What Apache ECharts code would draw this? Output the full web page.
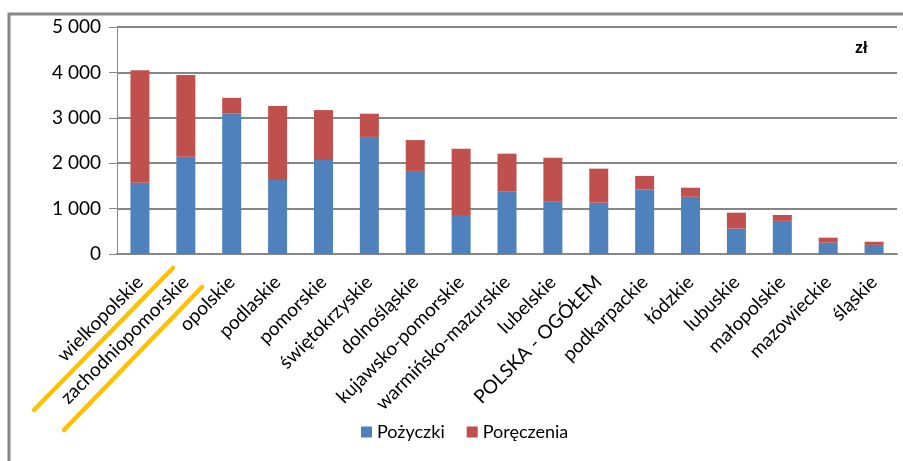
<!DOCTYPE html>
<html>
<head>
<meta charset="utf-8">
<script src="https://cdn.jsdelivr.net/npm/echarts@6/dist/echarts.min.js"></script>
<style>
  html, body { margin: 0; padding: 0; background: #fff; }
  #main { width: 903px; height: 461px; }
</style>
</head>
<body>
<div id="main"></div>
<script>
var regions = ['wielkopolskie', 'zachodniopomorskie', 'opolskie', 'podlaskie', 'pomorskie',
    'świętokrzyskie', 'dolnośląskie', 'kujawsko-pomorskie', 'warmińsko-mazurskie', 'lubelskie',
    'POLSKA - OGÓŁEM', 'podkarpackie', 'łódzkie', 'lubuskie', 'małopolskie', 'mazowieckie', 'śląskie'];

var pozyczki = [1570, 2140, 3090, 1630, 2070, 2580, 1830, 860, 1380, 1160, 1130, 1420, 1260, 560, 730, 250, 200];
var poreczenia = [2480, 1800, 350, 1630, 1100, 510, 680, 1460, 830, 960, 750, 300, 200, 350, 130, 110, 70];

var yTicks = [0, 1000, 2000, 3000, 4000, 5000];

var myChart = echarts.init(document.getElementById('main'));
var font = 'Lato, "Open Sans", sans-serif';

var option = {
    animation: false,
    textStyle: {fontFamily: font},
    grid: {left: 117, right: 6, top: 27, bottom: 207},
    graphic: [
        // chart area border
        {type: 'polyline', shape: {points: [[9, 461], [9, 14], [903, 14]]},
         style: {stroke: '#878787', lineWidth: 3, fill: null}},
        {type: 'text', left: 855, top: 41,
         style: {text: 'zł', font: 'bold 16px "Liberation Sans", Arial, sans-serif', fill: '#000'}},
        // yellow highlighter strokes
        {type: 'line', shape: {x1: 34, y1: 410, x2: 173, y2: 268},
         style: {stroke: '#FFC000', lineWidth: 4.5, lineCap: 'round'}},
        {type: 'line', shape: {x1: 64, y1: 430, x2: 202, y2: 287},
         style: {stroke: '#FFC000', lineWidth: 4.5, lineCap: 'round'}}
    ],
    legend: {
        left: 356, top: 418,
        itemWidth: 11, itemHeight: 11, itemGap: 22,
        icon: 'rect',
        textStyle: {fontSize: 18, color: '#000', fontFamily: font},
        data: ['Pożyczki', 'Poręczenia']
    },
    xAxis: {
        type: 'category',
        data: regions,
        axisLine: {lineStyle: {color: '#868686', width: 2}},
        axisTick: {length: 6, lineStyle: {color: '#868686', width: 2}},
        axisLabel: {rotate: 45, fontSize: 19, color: '#000', margin: 25, interval: 0}
    },
    yAxis: {
        type: 'value',
        min: yTicks[0], max: yTicks[yTicks.length - 1], interval: 1000,
        axisLine: {show: true, lineStyle: {color: '#868686', width: 1}},
        axisTick: {show: true, length: 8, lineStyle: {color: '#868686'}},
        splitLine: {lineStyle: {color: '#868686', width: 2}},
        axisLabel: {
            fontSize: 19, color: '#000', margin: 16,
            formatter: function (v) { return String(v).replace(/\B(?=(\d{3})+(?!\d))/g, ' '); }
        }
    },
    series: [
        {name: 'Pożyczki', type: 'bar', stack: 'a', data: pozyczki, barWidth: 19,
         itemStyle: {color: '#4F81BD'}},
        {name: 'Poręczenia', type: 'bar', stack: 'a', data: poreczenia, barWidth: 19,
         itemStyle: {color: '#C0504D'}}
    ]
};
myChart.setOption(option);
</script>
</body>
</html>
